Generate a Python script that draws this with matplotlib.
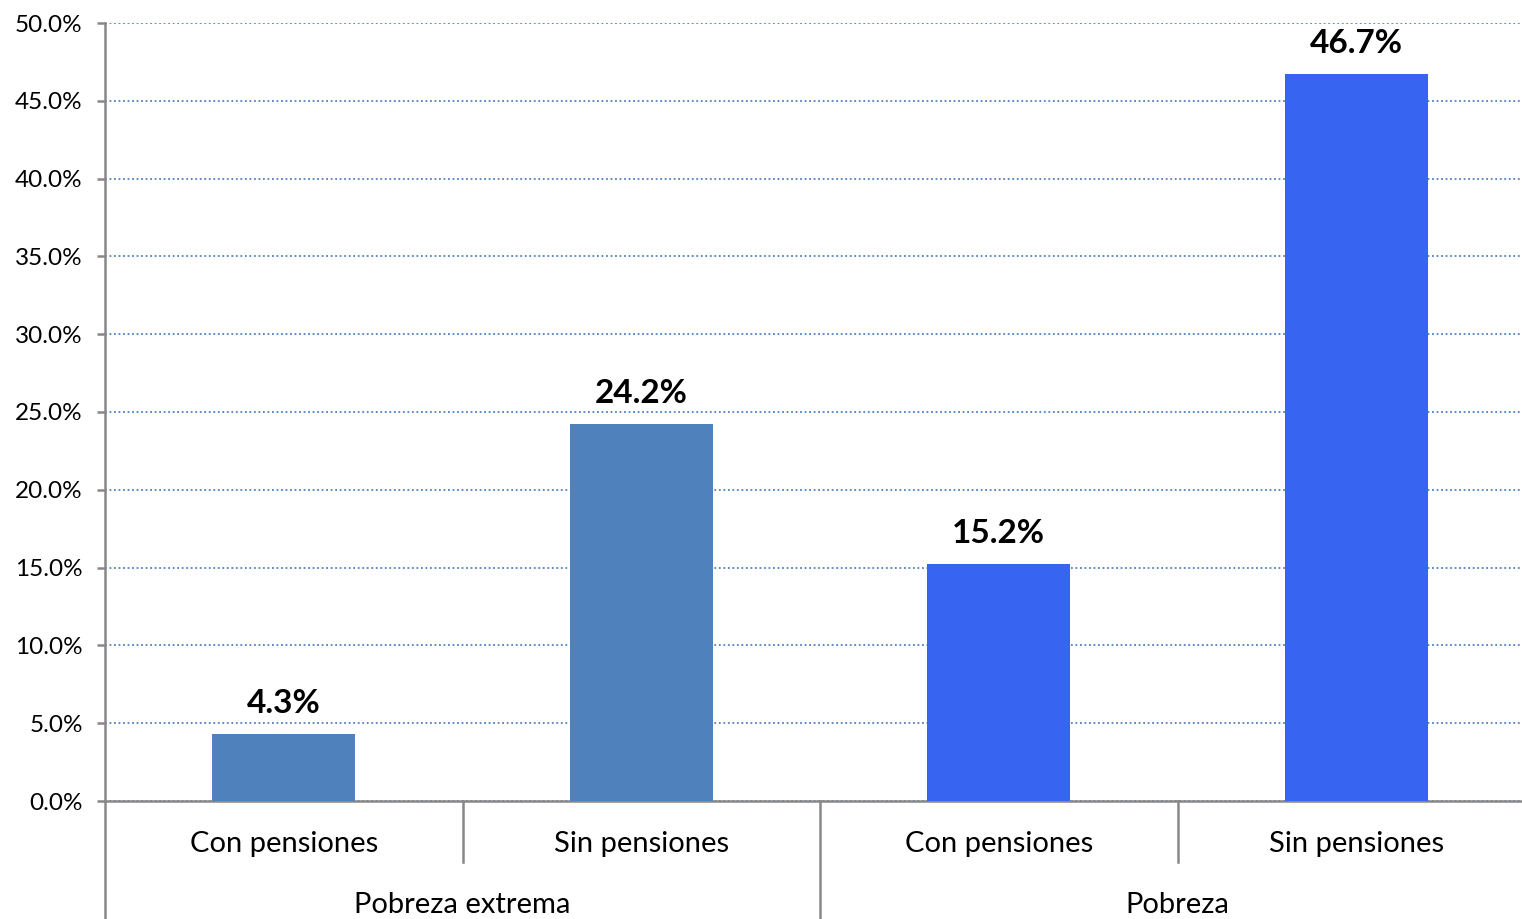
import numpy as np
import matplotlib.pyplot as plt
import matplotlib.transforms as mtransforms
from matplotlib.ticker import FuncFormatter, MultipleLocator

grupos = ['Pobreza extrema', 'Pobreza']
subcats = ['Con pensiones', 'Sin pensiones', 'Con pensiones', 'Sin pensiones']
valores = [4.3, 24.2, 15.2, 46.7]
colores = ['#4F81BD', '#4F81BD', '#3764F0', '#3764F0']

W, H = 1522, 919
fig = plt.figure(figsize=(W / 100, H / 100), dpi=100)
# axes: left edge 105px, 0% at y=801, 50% at y=23, 4 slots of ~357.5px
ax = fig.add_axes([105 / W, (H - 801) / H, 1430 / W, 778 / H])

x = np.arange(len(valores))
ax.bar(x, valores, width=0.4, color=colores, zorder=3)
ax.set_xlim(-0.5, len(valores) - 0.5)
ax.set_ylim(0, 50)

ax.yaxis.set_major_locator(MultipleLocator(5))
ax.yaxis.set_major_formatter(FuncFormatter(lambda v, p: f'{v:.1f}%'))
ax.grid(axis='y', color='#4F81BD', linestyle=(0, (1, 1.5)), linewidth=1.3, zorder=0)
ax.set_xticks([])

for s in ['top', 'right']:
    ax.spines[s].set_visible(False)
for s in ['left', 'bottom']:
    ax.spines[s].set_color('#888888')
    ax.spines[s].set_linewidth(1.8)
ax.tick_params(axis='y', length=6, width=1.8, color='#888888', pad=10, labelsize=17.5)
for lab in ax.get_yticklabels():
    lab.set_fontfamily('Lato')

# data labels (about 21px above the bar top)
off = 21 * 50 / 778
for xi, v in zip(x, valores):
    ax.text(xi, v + off, f'{v:.1f}%', ha='center', va='baseline', fontsize=24,
            fontweight='bold', family='Lato', zorder=4)

# multi-level category axis
trans = mtransforms.blended_transform_factory(ax.transData, ax.transAxes)
for xi, lab in zip(x, subcats):
    ax.text(xi, -43 / 778, lab, ha='center', va='center', fontsize=21,
            family='Lato', transform=trans)
for gi, g in enumerate(grupos):
    ax.text(2 * gi + 0.5, -104 / 778, g, ha='center', va='center', fontsize=21,
            family='Lato', transform=trans, clip_on=False)

sep_col = '#888888'
for b in [0.5, 2.5]:
    ax.plot([b, b], [0, -61 / 778], color=sep_col, lw=1.8, transform=trans, clip_on=False)
for b in [-0.5, 1.5]:
    ax.plot([b, b], [0, -130 / 778], color=sep_col, lw=1.8, transform=trans, clip_on=False)

fig.savefig('out.png', dpi=100)
